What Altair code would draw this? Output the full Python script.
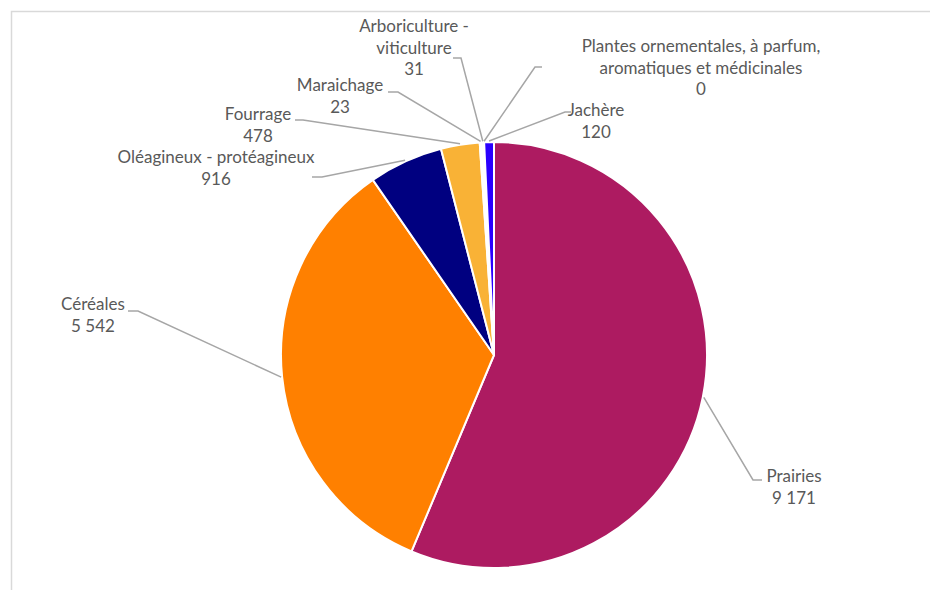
import math
import altair as alt
import pandas as pd

# ---- data ----
categories = [
    "Prairies",
    "Céréales",
    "Oléagineux - protéagineux",
    "Fourrage",
    "Maraichage",
    "Arboriculture - viticulture",
    "Plantes ornementales, à parfum, aromatiques et médicinales",
    "Jachère",
]
values = [9171, 5542, 916, 478, 23, 31, 0, 120]
label_lines = [
    ["Prairies"],
    ["Céréales"],
    ["Oléagineux - protéagineux"],
    ["Fourrage"],
    ["Maraichage"],
    ["Arboriculture -", "viticulture"],
    ["Plantes ornementales, à parfum,", "aromatiques et médicinales"],
    ["Jachère"],
]

# ---- style / layout ----
colors = ["#AD1B61", "#FF8000", "#000080", "#F9B236", "#FFFFFF", "#FFFFFF", "#FFFFFF", "#2A00FF"]
W, H = 922, 582
CX, CY, R = 486, 347, 213
OFF = 8  # page margin
# first-line centres of the label blocks (page coords)
label_pos = [(794, 477), (93, 305), (216, 158), (258, 115), (340, 86), (414, 27), (701, 47), (596, 111)]
# leader elbows and ends (page coords)
elbows = [(753, 480), (138, 311), (322, 177), (303, 120), (398, 92), (461, 58), (535, 67), (565, 112)]
ends = [(762, 480), (128, 311), (312, 177), (295, 120), (388, 92), (453, 58), (542, 67), (571, 112)]

total = sum(values)
pie_df = pd.DataFrame({"cat": categories, "value": values, "idx": list(range(len(values)))})


def fmt(v):
    return f"{v:,}".replace(",", " ")


lab_rows = []
line_rows = []
cum = 0
for i, (c, v) in enumerate(zip(categories, values)):
    a = 2 * math.pi * (cum + v / 2) / total
    cum += v
    ex = CX + (R + 1) * math.sin(a)
    ey = CY - (R + 1) * math.cos(a)
    pts = [(ex, ey), (elbows[i][0] - OFF, elbows[i][1] - OFF), (ends[i][0] - OFF, ends[i][1] - OFF)]
    for s, (px, py) in enumerate(pts):
        line_rows.append({"cat": c, "seq": s, "px": px, "py": py})
    lab_rows.append({
        "cat": c,
        "px": label_pos[i][0] - OFF,
        "py": label_pos[i][1] - OFF,
        "label": "\n".join(label_lines[i] + [fmt(v)]),
    })
lab_df = pd.DataFrame(lab_rows)
line_df = pd.DataFrame(line_rows)

border = alt.Chart(pd.DataFrame({"a": [0]})).mark_rect(
    fill=None, stroke="#D9D9D9", strokeWidth=1.5
).encode(x=alt.value(3.5), y=alt.value(3.5), x2=alt.value(W + 20), y2=alt.value(H + 20))

pie = alt.Chart(pie_df).mark_arc(stroke="white", strokeWidth=2, outerRadius=R).encode(
    theta=alt.Theta("value:Q", stack=True),
    order=alt.Order("idx:Q"),
    color=alt.Color("cat:N", scale=alt.Scale(domain=categories, range=colors), legend=None),
    x=alt.value(CX),
    y=alt.value(CY),
)

leaders = alt.Chart(line_df).mark_line(color="#A6A6A6", strokeWidth=1.5).encode(
    x=alt.X("px:Q", scale=None),
    y=alt.Y("py:Q", scale=None),
    detail="cat:N",
    order=alt.Order("seq:Q"),
)

labels = alt.Chart(lab_df).mark_text(
    font="Lato", fontSize=17, color="#595959", lineBreak="\n", lineHeight=21.7,
    align="center", baseline="middle",
).encode(
    x=alt.X("px:Q", scale=None),
    y=alt.Y("py:Q", scale=None),
    text="label:N",
)

chart = alt.layer(border, pie, leaders, labels).properties(
    width=W, height=H, autosize=alt.AutoSizeParams(type="none"), padding=0
).configure_view(stroke=None)

chart.save("out.html", embed_options={"renderer": "svg", "actions": False})
